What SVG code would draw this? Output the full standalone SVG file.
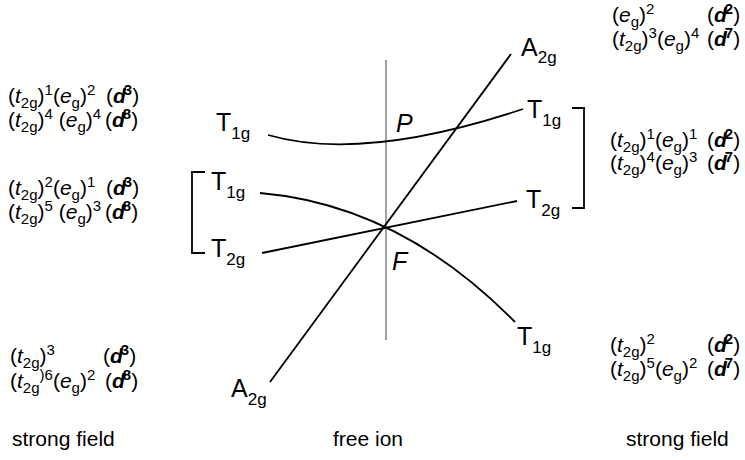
<svg xmlns="http://www.w3.org/2000/svg" width="745" height="460" viewBox="0 0 745 460">
<style>
text{font-family:"Liberation Sans",Arial,sans-serif;fill:#000}
.s{font-size:21px}
.L{font-size:25px}
.i{font-style:italic}
.sb{font-size:15px}
.ls{font-size:17px}
.d{font-weight:bold;font-style:italic}
.ds{font-weight:bold;font-size:15px}
.ln{fill:none;stroke:#000;stroke-width:1.8}
.ax{fill:none;stroke:#444;stroke-width:1}
</style>
<rect width="745" height="460" fill="#fff"/>
<g id="connectors">
<line class="ax" x1="386" y1="60" x2="386" y2="340"/>
<path class="ln" d="M268,135 C320,150 400,150 523,109"/>
<path class="ln" d="M260,193 Q400,205 515,322"/>
<path class="ln" d="M262,253 L517,201"/>
<path class="ln" d="M270,382 L511,54"/>
<path class="ln" d="M205,172 H192 V253 H205"/>
<path class="ln" d="M572,108 H584 V208 H572"/>
</g>
<g id="labels">
<text class="L" x="216" y="131">T<tspan class="ls" dy="8">1g</tspan></text>
<text class="L" x="211" y="190">T<tspan class="ls" dy="8">1g</tspan></text>
<text class="L" x="211" y="257">T<tspan class="ls" dy="8">2g</tspan></text>
<text class="L" x="231" y="397">A<tspan class="ls" dy="8">2g</tspan></text>
<text class="L" x="521" y="56">A<tspan class="ls" dy="7">2g</tspan></text>
<text class="L" x="527" y="118">T<tspan class="ls" dy="8">1g</tspan></text>
<text class="L" x="526" y="208">T<tspan class="ls" dy="8">2g</tspan></text>
<text class="L" x="517" y="345">T<tspan class="ls" dy="8">1g</tspan></text>
<text class="L i" x="396" y="132">P</text>
<text class="L i" x="392" y="270">F</text>
</g>
<g id="left-config">
<text class="s" x="8" y="103">(<tspan class="i">t</tspan><tspan class="sb" dy="5">2g</tspan><tspan dy="-5">)</tspan><tspan class="sb" dy="-8">1</tspan><tspan dy="8">(</tspan><tspan class="i">e</tspan><tspan class="sb" dy="5">g</tspan><tspan dy="-5">)</tspan><tspan class="sb" dy="-8">2</tspan><tspan x="106" dy="8">(</tspan><tspan class="d">d</tspan><tspan class="ds" dx="-2" dy="-8">3</tspan><tspan dy="8">)</tspan></text>
<text class="s" x="8" y="127">(<tspan class="i">t</tspan><tspan class="sb" dy="5">2g</tspan><tspan dy="-5">)</tspan><tspan class="sb" dy="-8">4</tspan><tspan dy="8"> (</tspan><tspan class="i">e</tspan><tspan class="sb" dy="5">g</tspan><tspan dy="-5">)</tspan><tspan class="sb" dy="-8">4</tspan><tspan x="105" dy="8">(</tspan><tspan class="d">d</tspan><tspan class="ds" dx="-2" dy="-8">8</tspan><tspan dy="8">)</tspan></text>
<text class="s" x="8" y="195">(<tspan class="i">t</tspan><tspan class="sb" dy="5">2g</tspan><tspan dy="-5">)</tspan><tspan class="sb" dy="-8">2</tspan><tspan dy="8">(</tspan><tspan class="i">e</tspan><tspan class="sb" dy="5">g</tspan><tspan dy="-5">)</tspan><tspan class="sb" dy="-8">1</tspan><tspan x="106" dy="8">(</tspan><tspan class="d">d</tspan><tspan class="ds" dx="-2" dy="-8">3</tspan><tspan dy="8">)</tspan></text>
<text class="s" x="8" y="219">(<tspan class="i">t</tspan><tspan class="sb" dy="5">2g</tspan><tspan dy="-5">)</tspan><tspan class="sb" dy="-8">5</tspan><tspan dy="8"> (</tspan><tspan class="i">e</tspan><tspan class="sb" dy="5">g</tspan><tspan dy="-5">)</tspan><tspan class="sb" dy="-8">3</tspan><tspan x="105" dy="8">(</tspan><tspan class="d">d</tspan><tspan class="ds" dx="-2" dy="-8">8</tspan><tspan dy="8">)</tspan></text>
<text class="s" x="10" y="363">(<tspan class="i">t</tspan><tspan class="sb" dy="5">2g</tspan><tspan dy="-5">)</tspan><tspan class="sb" dy="-8">3</tspan><tspan x="103" dy="8">(</tspan><tspan class="d">d</tspan><tspan class="ds" dx="-2" dy="-8">3</tspan><tspan dy="8">)</tspan></text>
<text class="s" x="10" y="388">(<tspan class="i">t</tspan><tspan class="sb" dy="5">2g</tspan><tspan class="sb" dy="-13">)6</tspan><tspan dy="8">(</tspan><tspan class="i">e</tspan><tspan class="sb" dy="5">g</tspan><tspan dy="-5">)</tspan><tspan class="sb" dy="-8">2</tspan><tspan x="105" dy="8">(</tspan><tspan class="d">d</tspan><tspan class="ds" dx="-2" dy="-8">8</tspan><tspan dy="8">)</tspan></text>
</g>
<g id="right-config">
<text class="s" x="612" y="22">(<tspan class="i">e</tspan><tspan class="sb" dy="5">g</tspan><tspan dy="-5">)</tspan><tspan class="sb" dy="-8">2</tspan><tspan x="707" dy="8">(</tspan><tspan class="d">d</tspan><tspan class="ds" dx="-2" dy="-8">2</tspan><tspan dy="8">)</tspan></text>
<text class="s" x="612" y="46">(<tspan class="i">t</tspan><tspan class="sb" dy="5">2g</tspan><tspan dy="-5">)</tspan><tspan class="sb" dy="-8">3</tspan><tspan dy="8">(</tspan><tspan class="i">e</tspan><tspan class="sb" dy="5">g</tspan><tspan dy="-5">)</tspan><tspan class="sb" dy="-8">4</tspan><tspan x="707" dy="8">(</tspan><tspan class="d">d</tspan><tspan class="ds" dx="-2" dy="-8">7</tspan><tspan dy="8">)</tspan></text>
<text class="s" x="610" y="147">(<tspan class="i">t</tspan><tspan class="sb" dy="5">2g</tspan><tspan dy="-5">)</tspan><tspan class="sb" dy="-8">1</tspan><tspan dy="8">(</tspan><tspan class="i">e</tspan><tspan class="sb" dy="5">g</tspan><tspan dy="-5">)</tspan><tspan class="sb" dy="-8">1</tspan><tspan x="707" dy="8">(</tspan><tspan class="d">d</tspan><tspan class="ds" dx="-2" dy="-8">2</tspan><tspan dy="8">)</tspan></text>
<text class="s" x="610" y="170">(<tspan class="i">t</tspan><tspan class="sb" dy="5">2g</tspan><tspan dy="-5">)</tspan><tspan class="sb" dy="-8">4</tspan><tspan dy="8">(</tspan><tspan class="i">e</tspan><tspan class="sb" dy="5">g</tspan><tspan dy="-5">)</tspan><tspan class="sb" dy="-8">3</tspan><tspan x="707" dy="8">(</tspan><tspan class="d">d</tspan><tspan class="ds" dx="-2" dy="-8">7</tspan><tspan dy="8">)</tspan></text>
<text class="s" x="610" y="352">(<tspan class="i">t</tspan><tspan class="sb" dy="5">2g</tspan><tspan dy="-5">)</tspan><tspan class="sb" dy="-8">2</tspan><tspan x="707" dy="8">(</tspan><tspan class="d">d</tspan><tspan class="ds" dx="-2" dy="-8">2</tspan><tspan dy="8">)</tspan></text>
<text class="s" x="610" y="376">(<tspan class="i">t</tspan><tspan class="sb" dy="5">2g</tspan><tspan dy="-5">)</tspan><tspan class="sb" dy="-8">5</tspan><tspan dy="8">(</tspan><tspan class="i">e</tspan><tspan class="sb" dy="5">g</tspan><tspan dy="-5">)</tspan><tspan class="sb" dy="-8">2</tspan><tspan x="707" dy="8">(</tspan><tspan class="d">d</tspan><tspan class="ds" dx="-2" dy="-8">7</tspan><tspan dy="8">)</tspan></text>
</g>
<g id="footer">
<text class="s" x="12" y="446">strong field</text>
<text class="s" x="333" y="446">free ion</text>
<text class="s" x="626" y="446">strong field</text>
</g>
</svg>
